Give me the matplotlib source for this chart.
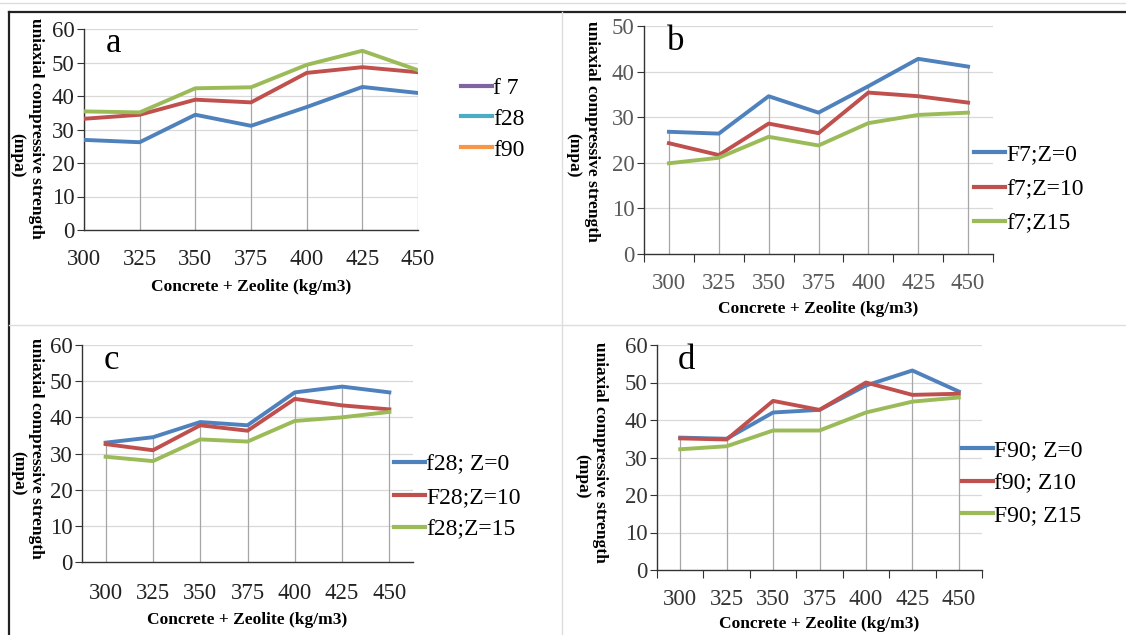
import numpy as np
import matplotlib
matplotlib.use("Agg")
import matplotlib.pyplot as plt
from matplotlib.lines import Line2D

plt.rcParams['font.family'] = ['Liberation Serif', 'DejaVu Serif']

# data
x_labels = ["300", "325", "350", "375", "400", "425", "450"]

a_f7 = [26.9, 26.2, 34.4, 31.1, 36.7, 42.7, 40.9]
a_f28 = [33.2, 34.4, 38.9, 38.1, 46.9, 48.6, 47.1]
a_f90 = [35.4, 35.1, 42.3, 42.6, 49.3, 53.5, 47.7]
a_names = ["f 7", "f28", "f90"]

b_z0 = [26.8, 26.4, 34.6, 31.0, 36.8, 42.8, 41.1]
b_z10 = [24.3, 21.7, 28.6, 26.5, 35.4, 34.6, 33.2]
b_z15 = [19.9, 21.1, 25.7, 23.8, 28.7, 30.5, 31.0]
b_names = ["F7;Z=0", "f7;Z=10", "f7;Z15"]

c_z0 = [33.0, 34.5, 38.7, 37.8, 46.9, 48.5, 46.9]
c_z10 = [32.6, 30.9, 37.8, 36.3, 45.1, 43.3, 42.2]
c_z15 = [29.1, 27.9, 33.9, 33.3, 39.0, 40.0, 41.5]
c_names = ["f28; Z=0", "F28;Z=10", "f28;Z=15"]

d_z0 = [35.3, 35.0, 42.0, 42.7, 49.2, 53.2, 47.6]
d_z10 = [35.1, 34.8, 45.1, 42.7, 50.0, 46.7, 47.0]
d_z15 = [32.2, 33.0, 37.2, 37.2, 42.0, 44.9, 46.0]
d_names = ["F90; Z=0", "f90; Z10", "F90; Z15"]

BLUE, RED, GREEN = "#4F81BD", "#C0504D", "#9BBB59"
W, H = 1126, 635

fig = plt.figure(figsize=(W / 100, H / 100), dpi=100)
fig.patch.set_facecolor("white")


def box(x0, y0, x1, y1):
    return [x0 / W, 1 - y1 / H, (x1 - x0) / W, (y1 - y0) / H]


def panel(rect, series, names, leg_colors, ymax, letter, centered, xticks_marks,
          tick_color, leg_xy, leg_space, ylab_x, ylab_y, mpa_xy, label_y, xpad):
    ax = fig.add_axes(box(*rect))
    x = np.arange(len(x_labels))
    colors = [BLUE, RED, GREEN]
    top = np.max(np.array(series), axis=0)
    ax.vlines(x, 0, top, color="#A6A6A6", lw=0.9, zorder=1)
    for yv in range(10, ymax + 1, 10):
        ax.axhline(yv, color="#D9D9D9", lw=0.9, zorder=0)
    for s, c in zip(series, colors):
        ax.plot(x, s, color=c, lw=2.8, zorder=3, solid_joinstyle="round")
    if centered:
        ax.set_xlim(-0.5, len(x) - 0.5)
    else:
        ax.set_xlim(0, len(x) - 1)
    ax.set_ylim(0, ymax)
    ax.set_yticks(range(0, ymax + 1, 10))
    ax.set_xticks(x)
    ax.set_xticklabels(x_labels)
    ax.tick_params(axis="y", length=5, width=0.8, labelsize=16.5, colors="#333333",
                   labelcolor=tick_color, pad=2)
    ax.tick_params(axis="x", length=0, labelsize=16.5, labelcolor=tick_color, pad=xpad)
    if xticks_marks:
        ax.set_xticks(np.arange(-0.5, len(x)), minor=True)
        ax.tick_params(axis="x", which="minor", length=6, width=0.8, color="#333333")
    for sp in ["top", "right"]:
        ax.spines[sp].set_visible(False)
    for sp in ["left", "bottom"]:
        ax.spines[sp].set_color("#333333")
        ax.spines[sp].set_linewidth(1.0)
    ax.text(0.065, 0.93, letter, transform=ax.transAxes, fontsize=25,
            va="center", ha="left")
    fig.text((rect[0] + rect[2]) / 2 / W, 1 - label_y / H, "Concrete + Zeolite (kg/m3)",
             ha="center", va="center", fontsize=12.5, fontweight="bold")
    fig.text(ylab_x / W, 1 - ylab_y / H, "uniaxial compressive strength",
             rotation=-90, ha="center", va="center", fontsize=12.5, fontweight="bold")
    fig.text(mpa_xy[0] / W, 1 - mpa_xy[1] / H, "(mpa)",
             rotation=-90, ha="center", va="center", fontsize=12.5, fontweight="bold")
    handles = [Line2D([], [], color=c, lw=3.0) for c in leg_colors]
    fig.legend(handles, names, loc="center left",
               bbox_to_anchor=(leg_xy[0] / W, 1 - leg_xy[1] / H),
               frameon=False, fontsize=17, handlelength=1.3, handletextpad=0.05,
               labelspacing=leg_space, borderpad=0, borderaxespad=0)
    return ax


panel((84, 29, 418, 230), [a_f7, a_f28, a_f90], a_names,
      ["#8064A2", "#4BACC6", "#F79646"], 60, "a", False, False, "#222222",
      (461, 119), 0.4, 36, 128, (17, 155), 287, 14)
panel((644, 26, 993, 254), [b_z0, b_z10, b_z15], b_names,
      [BLUE, RED, GREEN], 50, "b", True, True, "#595959",
      (974, 189), 0.55, 592, 131, (573, 155), 309, 14)
panel((82, 345, 413, 562), [c_z0, c_z10, c_z15], c_names,
      [BLUE, RED, GREEN], 60, "c", True, False, "#222222",
      (394, 497), 0.45, 36, 448, (18, 473), 620, 15)
panel((657, 345, 982, 570), [d_z0, d_z10, d_z15], d_names,
      [BLUE, RED, GREEN], 60, "d", True, True, "#333333",
      (962, 483), 0.45, 600, 452, (582, 476), 624, 14)

# frame lines from the composite figure
fig.add_artist(Line2D([9 / W, 1], [1 - 12 / H] * 2, color="#222222", lw=1.6))
fig.add_artist(Line2D([9 / W] * 2, [0, 1 - 12 / H], color="#222222", lw=1.6))
fig.add_artist(Line2D([0, 1], [1 - 3 / H] * 2, color="#DDDDDD", lw=1))
fig.add_artist(Line2D([562 / W] * 2, [0, 1 - 12 / H], color="#DDDDDD", lw=1))
fig.add_artist(Line2D([9 / W, 1], [1 - 325 / H] * 2, color="#DDDDDD", lw=1))

fig.savefig("out.png", dpi=100)
